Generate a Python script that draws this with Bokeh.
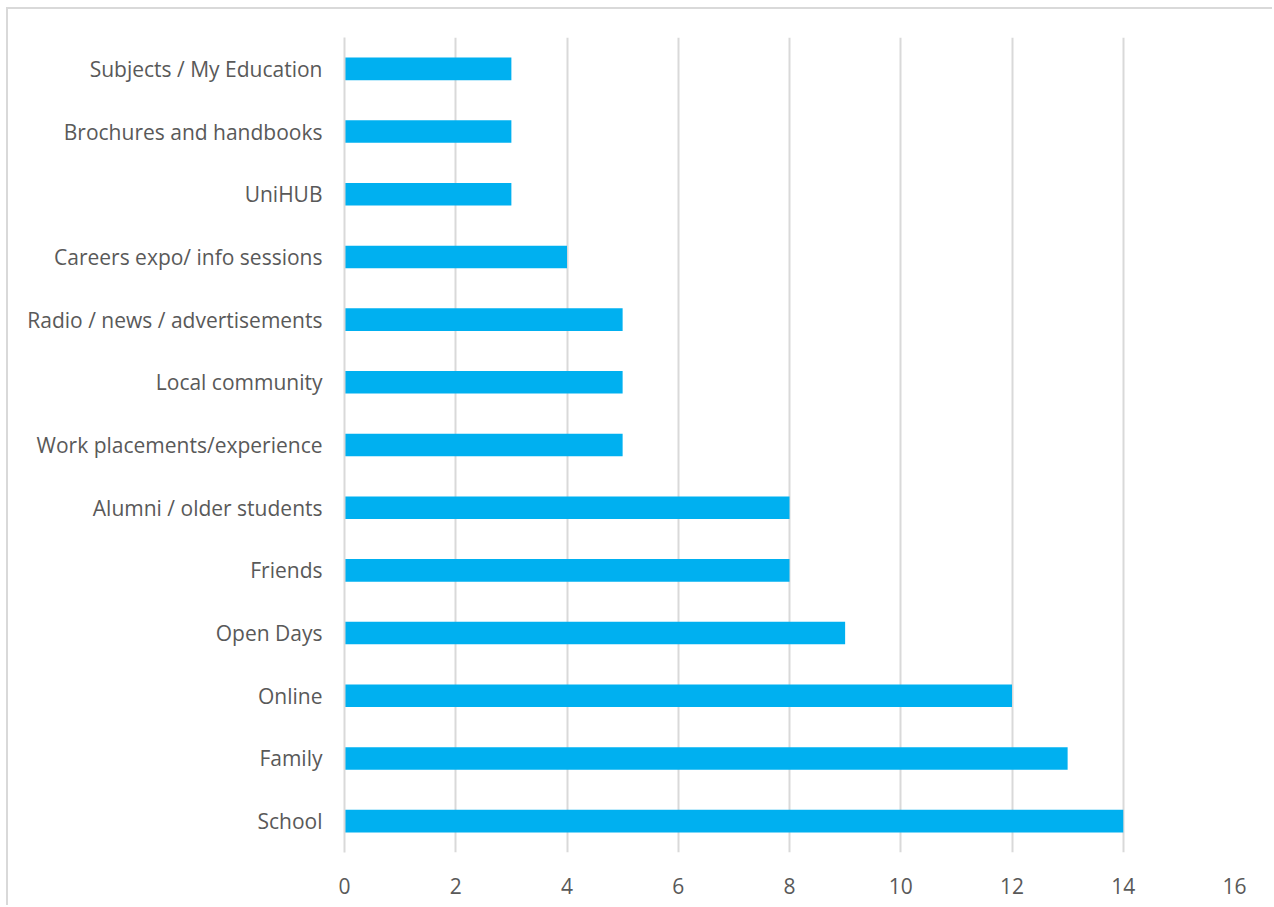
from bokeh.plotting import figure
from bokeh.models import FixedTicker, Range1d
from bokeh.embed import file_html
from bokeh.resources import INLINE

categories = [
    "School", "Family", "Online", "Open Days", "Friends",
    "Alumni / older students", "Work placements/experience", "Local community",
    "Radio / news / advertisements", "Careers expo/ info sessions", "UniHUB",
    "Brochures and handbooks", "Subjects / My Education",
]
values = [14, 13, 12, 9, 8, 8, 5, 5, 5, 4, 3, 3, 3]
x_ticks = [0, 2, 4, 6, 8, 10, 12, 14, 16]

FONT = "Open Sans"
TXT = "#595959"
GRID = "#d9d9d9"

p = figure(
    width=1266, height=898,
    y_range=categories, x_range=Range1d(0, 16),
    output_backend="svg", toolbar_location=None,
    min_border_left=336, min_border_right=40,
    min_border_top=28, min_border_bottom=55,
    margin=(7, 0, 0, 6),
    styles={"border-top": "2px solid #d9d9d9", "border-left": "2px solid #d9d9d9"},
)
p.hbar(y=categories, right=values, left=0, height=0.36,
       fill_color="#00B0F0", line_color=None)

p.outline_line_color = None
p.background_fill_color = "white"
p.border_fill_color = "white"

p.xgrid.grid_line_color = GRID
p.xgrid.grid_line_width = 2
p.ygrid.grid_line_color = None

p.xaxis.ticker = FixedTicker(ticks=x_ticks)
p.xaxis.axis_line_color = None
p.xaxis.major_tick_line_color = None
p.xaxis.minor_tick_line_color = None
p.xaxis.major_label_text_font = FONT
p.xaxis.major_label_text_font_size = "21px"
p.xaxis.major_label_text_color = TXT
p.xaxis.major_label_standoff = 19

p.yaxis.axis_line_color = GRID
p.yaxis.axis_line_width = 2
p.yaxis.major_tick_line_color = None
p.yaxis.major_tick_out = 0
p.yaxis.major_label_text_font = FONT
p.yaxis.major_label_text_font_size = "21px"
p.yaxis.major_label_text_color = TXT
p.yaxis.major_label_standoff = 22

open("out.html", "w").write(file_html(p, INLINE))
